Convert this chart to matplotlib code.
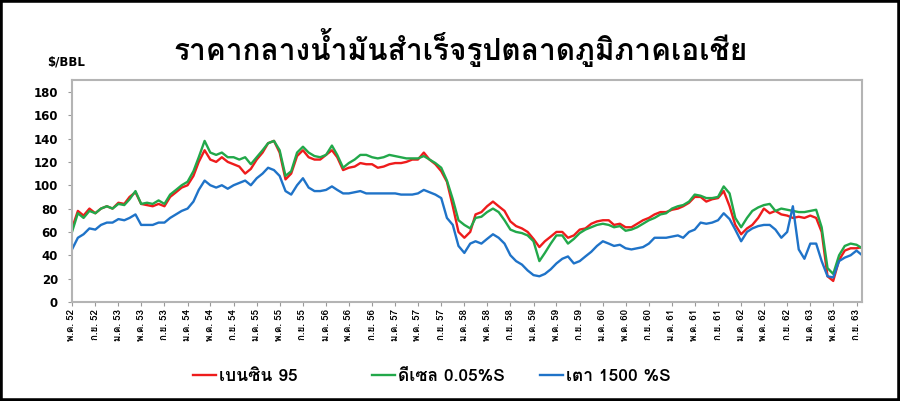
import matplotlib
matplotlib.use("Agg")
import matplotlib.pyplot as plt
from matplotlib import font_manager
from matplotlib.ft2font import FT2Font
from matplotlib.patches import Rectangle
import pandas as pd

# find a font that has Thai glyphs
thai = []
for f in font_manager.fontManager.ttflist:
    try:
        if 0x0E01 in FT2Font(f.fname).get_charmap() and f.name not in thai:
            thai.append(f.name)
    except Exception:
        pass
plt.rcParams["font.family"] = thai[:1] + ["DejaVu Sans"]

# monthly values, May 2009 .. Oct 2020 ($/BBL)
gasoline95 = [63, 78, 74, 80, 76, 80, 82, 80, 85, 84, 90, 94, 84, 83, 82, 84, 82, 90, 94, 98,
              100, 108, 120, 130, 122, 120, 124, 120, 118, 116, 110, 114, 122, 128, 136, 138, 128, 105, 110, 125,
              130, 124, 122, 122, 126, 130, 124, 113, 115, 116, 119, 118, 118, 115, 116, 118, 119, 119, 120, 122,
              122, 128, 122, 118, 112, 103, 82, 60, 55, 60, 75, 77, 82, 86, 82, 78, 69, 65, 63, 60,
              54, 47, 52, 56, 60, 60, 55, 57, 62, 63, 67, 69, 70, 70, 66, 67, 64, 64, 67, 70,
              72, 75, 77, 77, 79, 80, 82, 85, 90, 90, 86, 88, 89, 95, 82, 66, 58, 63, 66, 72,
              80, 76, 78, 75, 74, 72, 73, 72, 74, 72, 60, 22, 18, 36, 44, 46, 46, 47]
diesel005 = [60, 76, 72, 78, 76, 80, 82, 80, 84, 83, 88, 95, 84, 85, 84, 87, 84, 92, 96, 100,
             103, 112, 124, 138, 128, 126, 128, 124, 124, 122, 124, 118, 124, 130, 136, 138, 130, 108, 112, 128,
             133, 128, 125, 124, 126, 134, 126, 115, 119, 122, 126, 126, 124, 123, 124, 126, 125, 124, 123, 123,
             123, 125, 122, 119, 115, 104, 88, 70, 66, 63, 72, 73, 77, 80, 77, 70, 62, 60, 59, 57,
             52, 35, 42, 50, 57, 57, 50, 54, 59, 62, 64, 66, 67, 66, 64, 65, 61, 62, 64, 67,
             70, 72, 75, 76, 80, 82, 83, 86, 92, 91, 89, 89, 90, 99, 93, 72, 64, 72, 78, 81,
             83, 84, 78, 80, 79, 78, 77, 77, 78, 79, 64, 29, 24, 40, 48, 50, 49, 46]
fueloil = [45, 55, 58, 63, 62, 66, 68, 68, 71, 70, 72, 75, 66, 66, 66, 68, 68, 72, 75, 78,
           80, 86, 96, 104, 100, 98, 100, 97, 100, 102, 104, 100, 106, 110, 115, 113, 108, 95, 92, 100,
           106, 98, 95, 95, 96, 99, 96, 93, 93, 94, 95, 93, 93, 93, 93, 93, 93, 92, 92, 92,
           93, 96, 94, 92, 89, 72, 66, 48, 42, 50, 52, 50, 54, 58, 55, 50, 40, 35, 32, 27,
           23, 22, 24, 28, 33, 37, 39, 33, 35, 39, 43, 48, 52, 50, 48, 49, 46, 45, 46, 47,
           50, 55, 55, 55, 56, 57, 55, 60, 62, 68, 67, 68, 70, 76, 71, 62, 52, 60, 63, 65,
           66, 66, 62, 55, 60, 82, 45, 37, 50, 50, 35, 22, 21, 35, 38, 40, 44, 40]
dates = pd.date_range("2009-05-01", periods=len(gasoline95), freq="MS")

series_names = ["เบนซิน 95", "ดีเซล 0.05%S", "เตา 1500 %S"]
colors = ["#ee1c1c", "#22a84a", "#1f73c8"]

thai_months = {1: "ม.ค.", 5: "พ.ค.", 9: "ก.ย."}
tick_dates = pd.date_range("2009-05-01", "2020-09-01", freq="4MS")
tick_labels = [f"{thai_months[d.month]} {(d.year + 543) % 100:02d}" for d in tick_dates]

fig = plt.figure(figsize=(9, 4.01), dpi=100)
ax = fig.add_axes([0.08, 0.247, 0.878, 0.553])

lines = []
for vals, name, c in zip([gasoline95, diesel005, fueloil], series_names, colors):
    ln, = ax.plot(dates, vals, color=c, lw=1.7, label=name)
    lines.append(ln)

ax.set_ylim(0, 190)
ax.set_yticks(range(0, 181, 20))
ax.set_xlim(pd.Timestamp("2009-05-01"), pd.Timestamp("2020-10-01"))
ax.set_xticks(tick_dates)
ax.set_xticklabels(tick_labels, rotation=90, fontsize=7, fontweight="bold")
for t in ax.get_yticklabels():
    t.set_fontsize(8.5)
    t.set_fontweight("bold")
    t.set_family("DejaVu Sans")
for s in ax.spines.values():
    s.set_color("#b4b4b4")
    s.set_linewidth(1.5)
ax.tick_params(axis="both", color="#999999", length=3, width=0.8)
ax.tick_params(axis="y", pad=7)
ax.tick_params(axis="x", pad=2)

fig.text(0.512, 0.882, "ราคากลางน้ำมันสำเร็จรูปตลาดภูมิภาคเอเชีย",
         ha="center", va="center", fontsize=21.5, fontweight="bold")
fig.text(0.052, 0.845, "$/BBL", ha="left", va="center", fontsize=8.5,
         fontweight="bold", family="DejaVu Sans")

# one legend per entry, placed like the original
for ln, x in zip(lines, [193 / 900, 372 / 900, 540 / 900]):
    fig.legend(handles=[ln], loc="center left", bbox_to_anchor=(x, 0.062),
               frameon=False, handlelength=1.35, handletextpad=0.15,
               borderpad=0, borderaxespad=0,
               prop={"weight": "bold", "size": 12.5})

fig.patches.append(Rectangle((0, 0), 1, 1, transform=fig.transFigure,
                             fill=False, edgecolor="black", linewidth=4))

fig.savefig("out.png", dpi=100)
